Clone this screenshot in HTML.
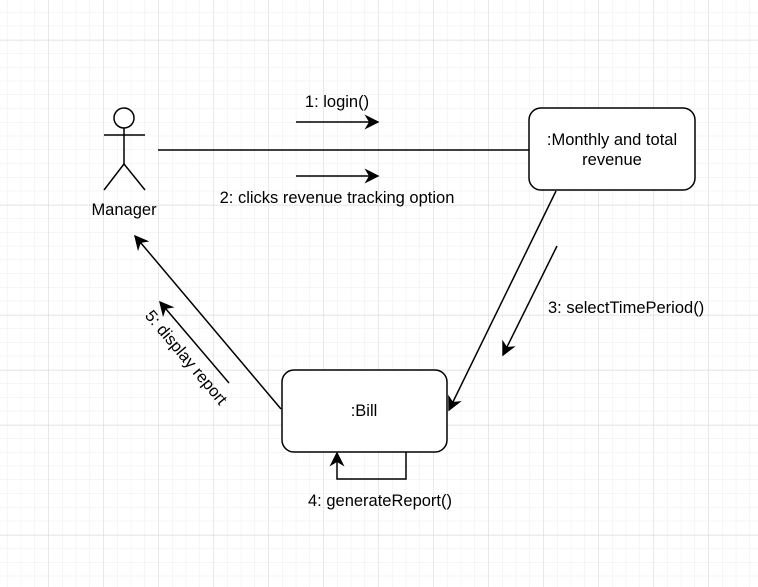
<!DOCTYPE html>
<html><head><style>
html,body{margin:0;padding:0;background:#fff;}
svg{display:block;}
text{font-family:"Liberation Sans",Arial,sans-serif;font-size:16.5px;fill:#000;}
</style></head><body>
<svg width="758" height="587" viewBox="0 0 758 587" xmlns="http://www.w3.org/2000/svg">
<defs>
<pattern id="g" x="7.05" y="12" width="13.75" height="13.75" patternUnits="userSpaceOnUse">
<path d="M0 0H13.75M0 0V13.75" stroke="#ececec" stroke-width="1" fill="none"/>
</pattern>
<pattern id="G" x="48.3" y="40" width="55" height="55" patternUnits="userSpaceOnUse">
<path d="M0 0H55M0 0V55" stroke="#d9d9d9" stroke-width="1" fill="none"/>
</pattern>
<marker id="a" viewBox="0 0 10 10" refX="9" refY="5" markerWidth="15" markerHeight="15" markerUnits="userSpaceOnUse" orient="auto">
<path d="M0 0L10 5L0 10L3 5Z" fill="#000"/>
</marker>
</defs>
<rect width="758" height="587" fill="url(#g)"/>
<rect width="758" height="587" fill="url(#G)"/>
<g stroke="#000" stroke-width="1.5" fill="none">
<circle cx="124" cy="118" r="10" fill="#fff"/>
<line x1="124" y1="128" x2="124" y2="164"/>
<line x1="104" y1="135" x2="145" y2="135"/>
<line x1="124" y1="164" x2="104" y2="190"/>
<line x1="124" y1="164" x2="145" y2="190"/>
<line x1="158" y1="150" x2="529" y2="150"/>
<line x1="296" y1="122" x2="378" y2="122" marker-end="url(#a)"/>
<line x1="296" y1="176" x2="378" y2="176" marker-end="url(#a)"/>
<rect x="529" y="108" width="166" height="82" rx="12" fill="#fff"/>
<rect x="282" y="370" width="165" height="82" rx="12" fill="#fff"/>
<line x1="556" y1="191" x2="449" y2="410" marker-end="url(#a)"/>
<line x1="557" y1="246" x2="503" y2="355" marker-end="url(#a)"/>
<line x1="281" y1="409" x2="135" y2="236" marker-end="url(#a)"/>
<line x1="229" y1="383" x2="160" y2="302" marker-end="url(#a)"/>
<polyline points="406,452 406,479 337,479 337,453" marker-end="url(#a)"/>
</g>
<text x="124" y="215" text-anchor="middle">Manager</text>
<text x="337" y="107" text-anchor="middle">1: login()</text>
<text x="337" y="203" text-anchor="middle">2: clicks revenue tracking option</text>
<text x="612" y="145" text-anchor="middle">:Monthly and total</text>
<text x="612" y="165" text-anchor="middle">revenue</text>
<text x="364" y="416" text-anchor="middle">:Bill</text>
<text x="548" y="313">3: selectTimePeriod()</text>
<text x="380" y="506" text-anchor="middle">4: generateReport()</text>
<text x="0" y="0" text-anchor="middle" transform="translate(182,361) rotate(50)">5: display report</text>
</svg>
</body></html>
